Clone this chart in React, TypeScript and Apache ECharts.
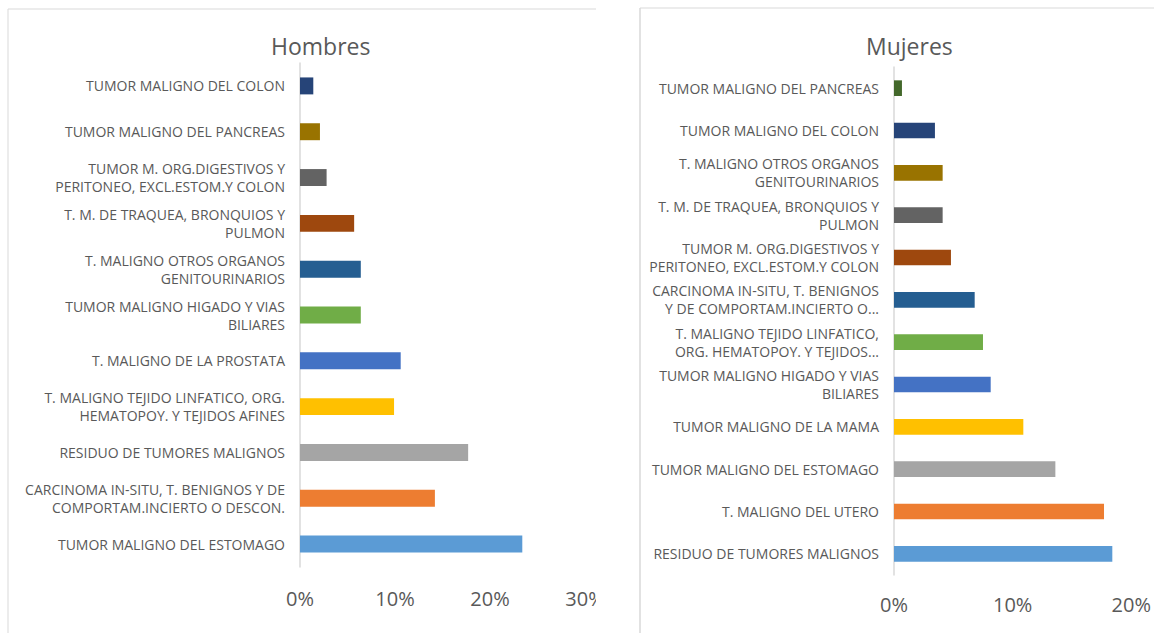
import React, { useEffect, useRef } from "react";
import * as echarts from "echarts";

// Categories listed from the bottom of the axis to the top
const hombresCategories = [
  "TUMOR MALIGNO DEL ESTOMAGO",
  "CARCINOMA IN-SITU, T. BENIGNOS Y DE\nCOMPORTAM.INCIERTO O DESCON.",
  "RESIDUO DE TUMORES MALIGNOS",
  "T. MALIGNO TEJIDO LINFATICO, ORG.\nHEMATOPOY. Y TEJIDOS AFINES",
  "T. MALIGNO DE LA PROSTATA",
  "TUMOR MALIGNO HIGADO Y VIAS\nBILIARES",
  "T. MALIGNO OTROS ORGANOS\nGENITOURINARIOS",
  "T. M. DE TRAQUEA, BRONQUIOS Y\nPULMON",
  "TUMOR M. ORG.DIGESTIVOS Y\nPERITONEO, EXCL.ESTOM.Y COLON",
  "TUMOR MALIGNO DEL PANCREAS",
  "TUMOR MALIGNO DEL COLON",
];
const hombresValues = [0.234, 0.142, 0.177, 0.099, 0.106, 0.064, 0.064, 0.057, 0.028, 0.021, 0.014];

const mujeresCategories = [
  "RESIDUO DE TUMORES MALIGNOS",
  "T. MALIGNO DEL UTERO",
  "TUMOR MALIGNO DEL ESTOMAGO",
  "TUMOR MALIGNO DE LA MAMA",
  "TUMOR MALIGNO HIGADO Y VIAS\nBILIARES",
  "T. MALIGNO TEJIDO LINFATICO,\nORG. HEMATOPOY. Y TEJIDOS...",
  "CARCINOMA IN-SITU, T. BENIGNOS\nY DE COMPORTAM.INCIERTO O...",
  "TUMOR M. ORG.DIGESTIVOS Y\nPERITONEO, EXCL.ESTOM.Y COLON",
  "T. M. DE TRAQUEA, BRONQUIOS Y\nPULMON",
  "T. MALIGNO OTROS ORGANOS\nGENITOURINARIOS",
  "TUMOR MALIGNO DEL COLON",
  "TUMOR MALIGNO DEL PANCREAS",
];
const mujeresValues = [0.184, 0.177, 0.136, 0.109, 0.0815, 0.075, 0.068, 0.048, 0.041, 0.041, 0.0345, 0.0067];

const palette = [
  "#5B9BD5", "#ED7D31", "#A5A5A5", "#FFC000", "#4472C4", "#70AD47",
  "#255E91", "#9E480E", "#636363", "#997300", "#264478", "#43682B",
];

const titles = ["Hombres", "Mujeres"];

const FONT = "'Open Sans', 'Noto Sans', sans-serif";
const TEXT = "#595959";
const BORDER = "#D9D9D9";

export default function App() {
  const ref = useRef<HTMLDivElement>(null);

  useEffect(() => {
    if (!ref.current) return;
    const chart = echarts.init(ref.current, undefined, { renderer: "svg" });

    const catAxis = (cats: string[], gridIndex: number) => ({
      type: "category" as const,
      gridIndex,
      data: cats,
      axisLine: { show: true, lineStyle: { color: BORDER, width: 1.5 } },
      axisTick: { show: false },
      axisLabel: {
        color: TEXT,
        fontFamily: FONT,
        fontSize: 14,
        lineHeight: 18,
        align: "right" as const,
        margin: 15,
      },
    });

    const valAxis = (max: number, gridIndex: number, margin: number) => ({
      type: "value" as const,
      gridIndex,
      min: 0,
      max,
      interval: 0.1,
      splitLine: { show: false },
      axisLine: { show: false },
      axisTick: { show: false },
      axisLabel: {
        color: TEXT,
        fontFamily: FONT,
        fontSize: 20,
        margin,
        formatter: (v: number) => `${Math.round(v * 100)}%`,
      },
    });

    const barSeries = (vals: number[], idx: number) => ({
      type: "bar" as const,
      xAxisIndex: idx,
      yAxisIndex: idx,
      data: vals,
      barWidth: "37%",
      itemStyle: {
        color: (p: any) => palette[p.dataIndex % palette.length],
      },
    });

    chart.setOption({
      animation: false,
      backgroundColor: "#ffffff",
      title: [
        {
          text: titles[0],
          left: 266,
          top: 29,
          textStyle: { color: TEXT, fontFamily: FONT, fontSize: 23, fontWeight: "normal" },
        },
        {
          text: titles[1],
          left: 861,
          top: 29,
          textStyle: { color: TEXT, fontFamily: FONT, fontSize: 23, fontWeight: "normal" },
        },
      ],
      grid: [
        { left: 300, top: 63, width: 285, height: 504 },
        { left: 894, top: 67, width: 238, height: 508 },
      ],
      xAxis: [valAxis(0.3, 0, 21), valAxis(0.2, 1, 19)],
      yAxis: [catAxis(hombresCategories, 0), catAxis(mujeresCategories, 1)],
      series: [barSeries(hombresValues, 0), barSeries(mujeresValues, 1)],
      graphic: [
        {
          type: "rect",
          shape: { x: 596, y: 0, width: 42, height: 633 },
          style: { fill: "#ffffff" },
          z: 100,
        },
        {
          type: "line",
          shape: { x1: 8, y1: 9, x2: 596, y2: 9 },
          style: { stroke: BORDER, lineWidth: 1 },
          z: 101,
        },
        {
          type: "line",
          shape: { x1: 8, y1: 9, x2: 8, y2: 633 },
          style: { stroke: BORDER, lineWidth: 1 },
          z: 101,
        },
        {
          type: "line",
          shape: { x1: 640, y1: 8, x2: 1154, y2: 8 },
          style: { stroke: BORDER, lineWidth: 1 },
          z: 101,
        },
        {
          type: "line",
          shape: { x1: 640, y1: 8, x2: 640, y2: 633 },
          style: { stroke: BORDER, lineWidth: 1.5 },
          z: 101,
        },
      ],
    });

    return () => chart.dispose();
  }, []);

  return (
    <div
      ref={ref}
      style={{ position: "fixed", left: 0, top: 0, width: 1154, height: 633, background: "#fff" }}
    />
  );
}
